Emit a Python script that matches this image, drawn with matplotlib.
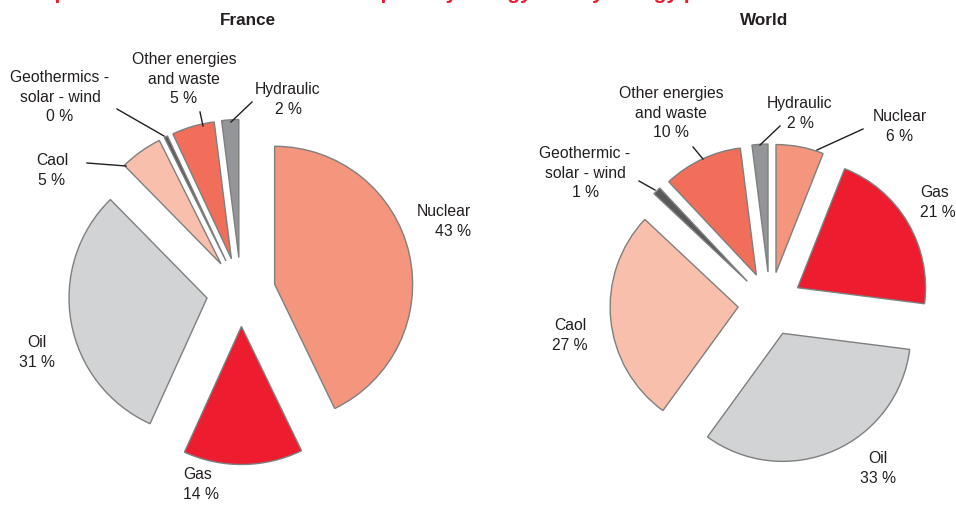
import matplotlib
matplotlib.use("Agg")
import matplotlib.pyplot as plt
from matplotlib import font_manager

W, H, DPI = 956, 506, 100

names = {f.name for f in font_manager.fontManager.ttflist}
NARROW = 'Liberation Sans Narrow' in names
BASE = 'Liberation Sans Narrow' if NARROW else 'Liberation Sans'
plt.rcParams['font.family'] = [BASE, 'DejaVu Sans']

# ---------------- data ----------------
energies = ["Nuclear", "Gas", "Oil", "Caol", "Geothermal", "Other", "Hydraulic"]
energy_colors = ["#F4967E", "#ED1C2E", "#D1D3D4", "#F9BFAD", "#58595B", "#F06E5A", "#939598"]

france_values = [43, 14, 31, 5, 0.4, 5, 2]
france_labels = ["Nuclear\n43 %", "Gas\n14 %", "Oil\n31 %", "Caol\n5 %",
                 "Geothermics -\nsolar - wind\n0 %", "Other energies\nand waste\n5 %",
                 "Hydraulic\n2 %"]

world_values = [6, 21, 33, 27, 1, 10, 2]
world_labels = ["Nuclear\n6 %", "Gas\n21 %", "Oil\n33 %", "Caol\n27 %",
                "Geothermic -\nsolar - wind\n1 %", "Other energies\nand waste\n10 %",
                "Hydraulic\n2 %"]

titles = ["France", "World"]
header = "Comparison of the France and World primary energy mix by energy product"

# ---------------- layout (pixels) ----------------
TXT = "#231F20"
EDGE = "#7F7F7F"
FS = 13 if NARROW else 11.3
TFS = 14 if NARROW else 12.3
LS = 1.2 if NARROW else 1.38

fig = plt.figure(figsize=(W / DPI, H / DPI), dpi=DPI)


def make_pie(values, cx, cy, r):
    ax = fig.add_axes([0, 0, 1, 1])
    ax.pie(values, radius=1, startangle=90, counterclock=False,
           explode=[0.25] * len(values), colors=energy_colors,
           wedgeprops=dict(edgecolor=EDGE, linewidth=1.0))
    ax.set_aspect('auto')
    ax.set_xlim(-cx / r, (W - cx) / r)
    ax.set_ylim(-(H - cy) / r, cy / r)
    ax.axis('off')
    return ax


def fx(px):
    return px / W


def fy(py):
    return 1 - py / H


def label(text, x, top, ha='center'):
    fig.text(fx(x), fy(top - 3), text, ha=ha, va='top', fontsize=FS,
             color=TXT, linespacing=LS, multialignment=ha)


def leader(x0, y0, x1, y1):
    fig.add_artist(plt.Line2D([fx(x0), fx(x1)], [fy(y0), fy(y1)],
                              color=TXT, lw=1.0, transform=fig.transFigure))


# France pie
make_pie(france_values, 241, 293, 138)
# World pie
make_pie(world_values, 770, 305, 128)

# France labels: (x, cap-top, ha)
fr_pos = [(471, 207, 'right'), (183, 470, 'left'), (37, 338, 'center'),
          (52, 156, 'center'), (60, 73, 'center'), (184, 55, 'center'),
          (288, 85, 'center')]
for txt, (x, t, ha) in zip(france_labels, fr_pos):
    label(txt, x, t, ha)

wd_pos = [(900, 112, 'center'), (920, 188, 'left'), (878, 454, 'center'),
          (570, 321, 'center'), (585, 149, 'center'), (671, 89, 'center'),
          (800, 99, 'center')]
for txt, (x, t, ha) in zip(world_labels, wd_pos):
    label(txt, x, t, ha)

# leader lines
leader(87, 164, 126, 167)     # France coal
leader(117, 110, 164, 137)    # France geothermics
leader(200, 113, 203, 127)    # France other
leader(252, 103, 231, 123)    # France hydraulic
leader(639, 182, 655, 191)    # World geothermic
leader(693, 148, 703, 160)    # World other
leader(780, 127, 760, 146)    # World hydraulic
leader(863, 130, 817, 151)    # World nuclear

# titles
fig.text(fx(248), fy(13), titles[0], ha='center', va='top', fontsize=TFS,
         fontweight='bold', color=TXT)
fig.text(fx(764), fy(13), titles[1], ha='center', va='top', fontsize=TFS,
         fontweight='bold', color=TXT)

# clipped red header (only the descenders are visible, as in the original)
fig.text(fx(8), 1 + 1.0 / H, header, ha='left', va='baseline', fontsize=15,
         fontweight='bold', color="#ED1C2E")

fig.savefig("out.png", dpi=DPI)
